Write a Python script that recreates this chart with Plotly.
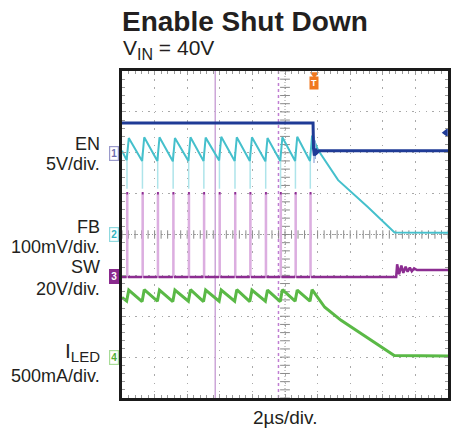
import numpy as np
import plotly.graph_objects as go

# ---------------- data (scope divisions) ----------------
# x: 0..10 divisions (2 us/div), y: 0..8 divisions
pulse_t = [0.143, 0.617, 1.085, 1.559, 2.036, 2.501, 2.979, 3.456, 3.921, 4.398, 4.854, 5.310, 5.766]
on_time = 0.065
sw_width = 0.035

# FB (ch2)
fb_start = [0.0, 6.05]
fb_trough = [5.82, 5.80, 5.80, 5.79, 5.80, 5.80, 5.81, 5.80, 5.80, 5.79, 5.80, 5.80, 5.80]
fb_peak = [6.36, 6.38, 6.38, 6.36, 6.38, 6.37, 6.39, 6.38, 6.38, 6.36, 6.38, 6.39, 6.42]
fb_decay_x = [6.02, 6.63, 7.54, 8.36, 10.0]
fb_decay_y = [6.06, 5.33, 4.67, 4.05, 4.04]
fb_spike_top = 6.00
fb_spike_bottom = 5.12

# I_LED (ch4)
led_start = [0.0, 2.46]
led_trough = [2.37, 2.36, 2.37, 2.36, 2.37, 2.36, 2.37, 2.37, 2.36, 2.37, 2.36, 2.37, 2.37]
led_peak = [2.64, 2.65, 2.64, 2.64, 2.65, 2.64, 2.64, 2.65, 2.64, 2.64, 2.65, 2.64, 2.65]
led_decay_x = [6.22, 6.72, 7.33, 7.94, 8.35, 10.0]
led_decay_y = [2.22, 1.90, 1.57, 1.24, 1.04, 1.03]

# EN (ch1)
en_x = [0.0, 5.86, 5.875, 5.90, 5.94, 5.98, 6.05, 10.0]
en_y = [6.73, 6.73, 6.10, 5.93, 6.10, 6.00, 6.05, 6.05]
en_glitch_x = [5.89, 5.89, None, 5.93, 5.93]
en_glitch_y = [6.40, 5.75, None, 6.30, 5.85]

# SW (ch3)
sw_low = 2.96
sw_high = 5.01
sw_ring_x = [8.41, 8.44, 8.50, 8.57, 8.63, 8.70, 8.76, 8.83, 8.89, 8.96, 9.05, 10.0]
sw_ring_y = [2.96, 3.27, 3.03, 3.24, 3.06, 3.21, 3.09, 3.19, 3.10, 3.17, 3.13, 3.13]

# cursors / markers
cursor_solid_x = 2.86
cursor_dash_x = 4.80
trigger_x = 5.90
trig_level_y = 6.49

# ---------------- layout geometry ----------------
W, H = 456, 431
L, R, T, B = 122, 451, 71, 398


def px(x):
    return (x - L) / (R - L)


def py(y):
    return (B - y) / (B - T)


FONT = "Liberation Sans, Arial, Helvetica, sans-serif"
TXT = "#231f20"

# ---------------- build traces ----------------
fb_x = [fb_start[0]]
fb_y = [fb_start[1]]
for t, lo, hi in zip(pulse_t, fb_trough, fb_peak):
    fb_x += [t, t + on_time]
    fb_y += [lo, hi]
fb_x += fb_decay_x
fb_y += fb_decay_y

led_x = [led_start[0]]
led_y = [led_start[1]]
for t, lo, hi in zip(pulse_t, led_trough, led_peak):
    led_x += [t, t + on_time]
    led_y += [lo, hi]
led_x += led_decay_x
led_y += led_decay_y

spk_x, spk_y = [], []
for t in pulse_t:
    spk_x += [t + 0.01, t + 0.01, None]
    spk_y += [fb_spike_top, fb_spike_bottom, None]

sw_edge_x, sw_edge_y = [0.0], [sw_low]
for t in pulse_t:
    sw_edge_x += [t, t, t + sw_width, t + sw_width]
    sw_edge_y += [sw_low, sw_high, sw_high, sw_low]
sw_edge_x += sw_ring_x
sw_edge_y += sw_ring_y

sw_lvl_x, sw_lvl_y = [], []
prev = 0.0
for t in pulse_t:
    sw_lvl_x += [prev, t, None, t - 0.01, t + sw_width + 0.01, None]
    sw_lvl_y += [sw_low, sw_low, None, sw_high, sw_high, None]
    prev = t + sw_width
sw_lvl_x += [prev] + sw_ring_x
sw_lvl_y += [sw_low] + sw_ring_y

fig = go.Figure()

# centre crosshair with minor ticks
cx = np.round(np.arange(0, 10.001, 0.2), 3)
cy = np.round(np.arange(0, 8.001, 0.2), 3)
fig.add_trace(go.Scatter(x=[0, 10], y=[4, 4], mode="lines",
                         line=dict(color="#9a9a9a", width=1, dash="1px,2px"), hoverinfo="skip"))
fig.add_trace(go.Scatter(x=[5, 5], y=[0, 8], mode="lines",
                         line=dict(color="#9a9a9a", width=1, dash="1px,2px"), hoverinfo="skip"))
fig.add_trace(go.Scatter(x=cx, y=[4] * len(cx), mode="markers",
                         marker=dict(symbol="line-ns", size=6, line=dict(color="#8a8a8a", width=1)),
                         hoverinfo="skip"))
fig.add_trace(go.Scatter(x=[5] * len(cy), y=cy, mode="markers",
                         marker=dict(symbol="line-ew", size=7, line=dict(color="#8a8a8a", width=1)),
                         hoverinfo="skip"))

# traces
fig.add_trace(go.Scatter(x=sw_edge_x, y=sw_edge_y, mode="lines", name="SW edges",
                         line=dict(color="#dcaee0", width=1.4)))
fig.add_trace(go.Scatter(x=spk_x, y=spk_y, mode="lines", name="FB spikes",
                         line=dict(color="#aee4ea", width=1.5)))
fig.add_trace(go.Scatter(x=fb_x, y=fb_y, mode="lines", name="FB",
                         line=dict(color="#45c0cc", width=2)))
fig.add_trace(go.Scatter(x=en_glitch_x, y=en_glitch_y, mode="lines", name="EN glitch",
                         line=dict(color="#8fa6d8", width=1.2)))
fig.add_trace(go.Scatter(x=en_x, y=en_y, mode="lines", name="EN",
                         line=dict(color="#1f3b96", width=3)))
fig.add_trace(go.Scatter(x=sw_lvl_x, y=sw_lvl_y, mode="lines", name="SW",
                         line=dict(color="#8c2d91", width=2.5)))
fig.add_trace(go.Scatter(x=led_x, y=led_y, mode="lines", name="ILED",
                         line=dict(color="#5ab946", width=3)))

# trigger level marker (right edge) and trigger position marker (top)
fig.add_trace(go.Scatter(x=[9.93], y=[trig_level_y], mode="markers", cliponaxis=False,
                         marker=dict(symbol="triangle-left", size=8, color="#1f3b96"), hoverinfo="skip"))
fig.add_trace(go.Scatter(x=[trigger_x], y=[7.92], mode="markers", cliponaxis=False,
                         marker=dict(symbol="triangle-down", size=8, color="#f07820"), hoverinfo="skip"))

shapes = [
    dict(type="line", xref="x", yref="y", x0=cursor_solid_x, x1=cursor_solid_x, y0=0, y1=8,
         line=dict(color="#cda6d8", width=1.5), layer="between"),
    dict(type="line", xref="x", yref="y", x0=cursor_dash_x, x1=cursor_dash_x, y0=0, y1=8,
         line=dict(color="#c07ed2", width=1.5, dash="3px,3px"), layer="between"),
]

ann = []


def text(s, x, y, size, anchor="left", color=TXT, weight="normal"):
    ann.append(dict(text=s, xref="paper", yref="paper",
                    x=px(x), y=py(y), xanchor=anchor, yanchor="middle", showarrow=False,
                    borderpad=0, font=dict(family=FONT, size=size, color=color, weight=weight)))


SUB = "<span style='font-size:%dpx;baseline-shift:-%dpx'>%s</span>"

text("Enable Shut Down", 121, 21.5, 28, weight="bold")
text("V" + SUB % (16, 5, "IN") + " = 40V", 122, 49.5, 21)

text("EN", 101, 143.5, 18, anchor="right")
text("5V/div.", 101, 164, 18, anchor="right")
text("FB", 101, 226.5, 18, anchor="right")
text("100mV/div.", 101, 246.5, 18, anchor="right")
text("SW", 101, 267, 18, anchor="right")
text("20V/div.", 101, 288.5, 18, anchor="right")
text("I" + SUB % (15, 4, "LED"), 101, 351.5, 21, anchor="right")
text("500mA/div.", 101, 376, 18, anchor="right")
text("2µs/div.", 286, 417, 19, anchor="center")

# channel badges
badges = [("1", 153, "#9a9acb", "#6f6fae", "white"),
          ("2", 234, "#8fd9df", "#2fb3c0", "white"),
          ("3", 276, "#8a2a8e", "white", "#8a2a8e"),
          ("4", 357, "#a8dc98", "#4fae35", "white")]
for n, yy, border, fcol, bg in badges:
    ann.append(dict(text=n, xref="paper", yref="paper", x=px(113.5), y=py(yy),
                    xanchor="center", yanchor="middle", showarrow=False, borderpad=1,
                    bordercolor=border, borderwidth=1.2, bgcolor=bg,
                    font=dict(family=FONT, size=10, color=fcol, weight="bold")))

# trigger "T"
ann.append(dict(text="T", xref="x", yref="paper", x=trigger_x, y=py(83),
                xanchor="center", yanchor="middle", showarrow=False, borderpad=1,
                bgcolor="#f07820", font=dict(family=FONT, size=9, color="white", weight="bold")))

axis_common = dict(showticklabels=False, zeroline=False, showline=True, linewidth=2.5,
                   linecolor="#1a1a1a", mirror="allticks", ticks="inside", ticklen=4,
                   tickcolor="#9a9a9a", tickwidth=1, showgrid=True, gridcolor="#a9a9a9",
                   gridwidth=1.3, fixedrange=True)

fig.update_layout(
    width=W, height=H,
    margin=dict(l=L, r=W - R, t=T, b=H - B, pad=0),
    paper_bgcolor="white", plot_bgcolor="white",
    showlegend=False,
    xaxis=dict(range=[0, 10], dtick=1, tick0=0, griddash="1.3px,6.9px",
               minor=dict(dtick=0.2, ticks="inside", ticklen=3, tickcolor="#9a9a9a", showgrid=False),
               **axis_common),
    yaxis=dict(range=[0, 8], dtick=1, tick0=0, griddash="1.3px,5.3px",
               minor=dict(dtick=0.2, ticks="inside", ticklen=3, tickcolor="#9a9a9a", showgrid=False),
               **axis_common),
    shapes=shapes,
    annotations=ann,
)

fig.write_html("out.html", config={"displayModeBar": False},
               post_script="document.body.style.margin='0';document.body.style.overflow='hidden';")
